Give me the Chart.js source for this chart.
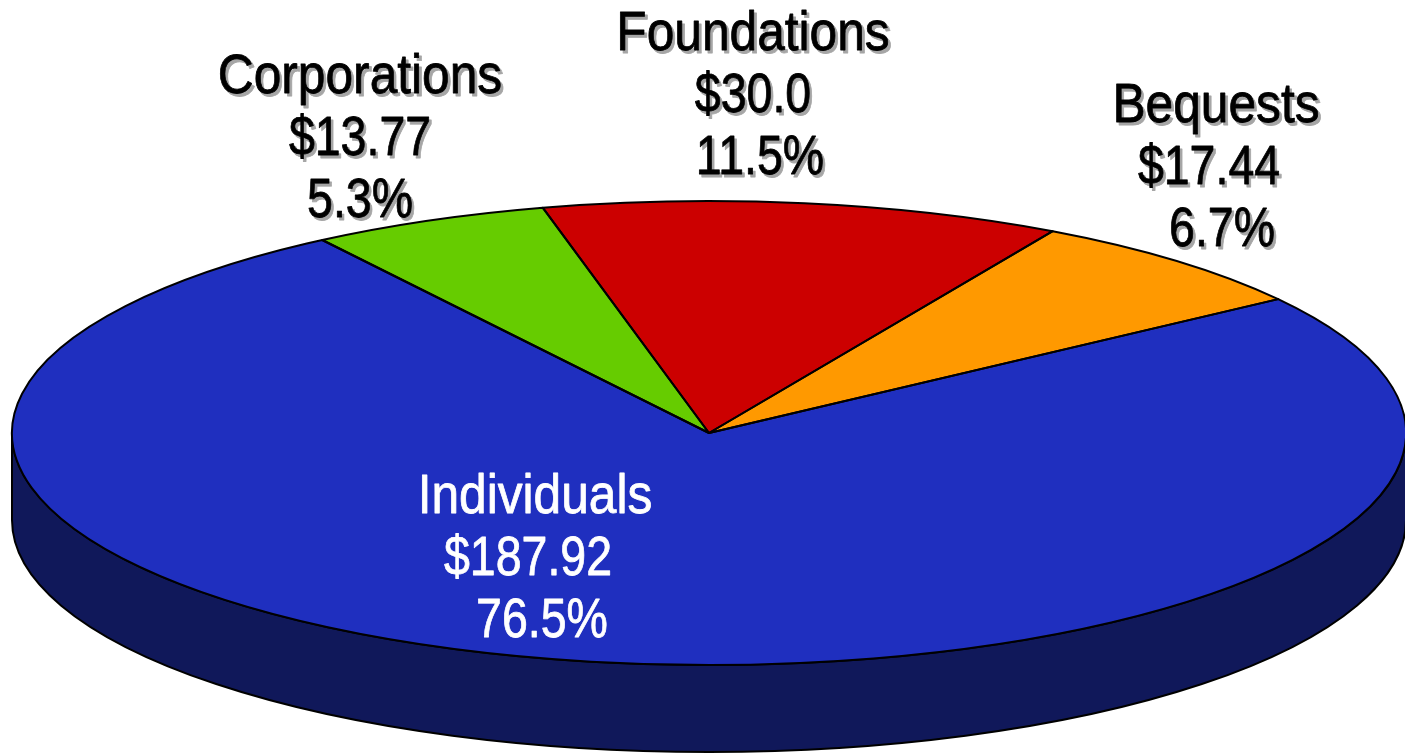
<!DOCTYPE html>
<html>
<head>
<meta charset="utf-8">
<script src="https://cdn.jsdelivr.net/npm/chart.js@4.4.0/dist/chart.umd.min.js"></script>
<style>
  html, body { margin: 0; padding: 0; background: #fff; }
  #wrap { width: 1405px; height: 754px; }
</style>
</head>
<body>
<div id="wrap"><canvas id="pie_chart" width="1405" height="754"></canvas></div>
<script>
// data
const categories = ["Corporations", "Foundations", "Bequests", "Individuals"];
const amounts = [13.77, 30.0, 17.44, 187.92];
const amountLabels = ["$13.77", "$30.0", "$17.44", "$187.92"];
const percentLabels = ["5.3%", "11.5%", "6.7%", "76.5%"];

const topColors = ["#66cc00", "#cc0000", "#ff9900", "#1f2fbf"];
const sideColors = ["#336600", "#660000", "#804d00", "#10185a"];

// where the squashed pie sits on the page
const ell = { x: 709, y: 433, rx: 697, ry: 232, depth: 87 };
// label anchor (centre x, first baseline y) for each slice, and small x nudges per line
const labelPos = [[360, 93], [753, 50], [1216, 122], [535, 513]];
const lineShift = [[0, 0, 0], [0, 0, 7], [0, -7, 6], [0, -7, 7]];
const labelColors = ["#000", "#000", "#000", "#fff"];
const lineGap = 62;

function frontParts(s, e) {
  // parts of [s,e] that lie on the front half (0..PI)
  const out = [];
  for (let k = -2; k <= 2; k++) {
    const a = Math.max(s, 2 * Math.PI * k);
    const b = Math.min(e, 2 * Math.PI * k + Math.PI);
    if (b > a) out.push([a, b]);
  }
  return out;
}

const pie3d = {
  id: 'pie3d',
  beforeDatasetsDraw(chart) {
    const ctx = chart.ctx;
    const arcs = chart.getDatasetMeta(0).data;
    // side wall
    ctx.save();
    ctx.lineWidth = 2;
    ctx.strokeStyle = "#000";
    arcs.forEach((arc, i) => {
      frontParts(arc.startAngle, arc.endAngle).forEach(([a, b]) => {
        ctx.beginPath();
        ctx.ellipse(ell.x, ell.y, ell.rx, ell.ry, 0, a, b, false);
        ctx.ellipse(ell.x, ell.y + ell.depth, ell.rx, ell.ry, 0, b, a, true);
        ctx.closePath();
        ctx.fillStyle = sideColors[i];
        ctx.fill();
        ctx.stroke();
      });
    });
    ctx.restore();
    // squash the library's round pie into the top ellipse
    const a0 = arcs[0];
    ctx.save();
    ctx.translate(ell.x, ell.y);
    ctx.scale(ell.rx / a0.outerRadius, ell.ry / a0.outerRadius);
    ctx.translate(-a0.x, -a0.y);
  },
  afterDatasetsDraw(chart) {
    const ctx = chart.ctx;
    ctx.restore();
    const arcs = chart.getDatasetMeta(0).data;
    ctx.save();
    ctx.lineWidth = 2;
    ctx.strokeStyle = "#000";
    ctx.lineJoin = "round";
    arcs.forEach((arc) => {
      ctx.beginPath();
      ctx.moveTo(ell.x, ell.y);
      ctx.ellipse(ell.x, ell.y, ell.rx, ell.ry, 0, arc.startAngle, arc.endAngle, false);
      ctx.closePath();
      ctx.stroke();
    });
    ctx.restore();
  },
  afterDraw(chart) {
    const ctx = chart.ctx;
    ctx.save();
    ctx.font = '56px "Liberation Sans", Arial, sans-serif';
    ctx.textAlign = "center";
    ctx.textBaseline = "alphabetic";
    ctx.lineJoin = "round";
    categories.forEach((c, i) => {
      const lines = [c, amountLabels[i], percentLabels[i]];
      const [x, y] = labelPos[i];
      lines.forEach((t, j) => {
        ctx.save();
        ctx.translate(x + lineShift[i][j], y + j * lineGap);
        ctx.scale(j === 0 ? 0.887 : 0.83, 1);
        ctx.lineWidth = 0.8;
        if (labelColors[i] === "#000") {
          ctx.fillStyle = ctx.strokeStyle = "#a6a6a6";
          ctx.fillText(t, 3, 3);
          ctx.strokeText(t, 3, 3);
        }
        ctx.fillStyle = ctx.strokeStyle = labelColors[i];
        ctx.fillText(t, 0, 0);
        ctx.strokeText(t, 0, 0);
        ctx.restore();
      });
    });
    ctx.restore();
  }
};

let pieCtx = document.getElementById('pie_chart');
let pieChart = new Chart(pieCtx, {
  type: 'pie',
  data: {
    labels: categories,
    datasets: [{
      data: amounts,
      backgroundColor: topColors,
      borderWidth: 0
    }]
  },
  options: {
    responsive: false,
    animation: false,
    rotation: -33.7,
    layout: { padding: 0 },
    plugins: {
      legend: { display: false },
      tooltip: { enabled: false }
    }
  },
  plugins: [pie3d]
});
</script>
</body>
</html>
